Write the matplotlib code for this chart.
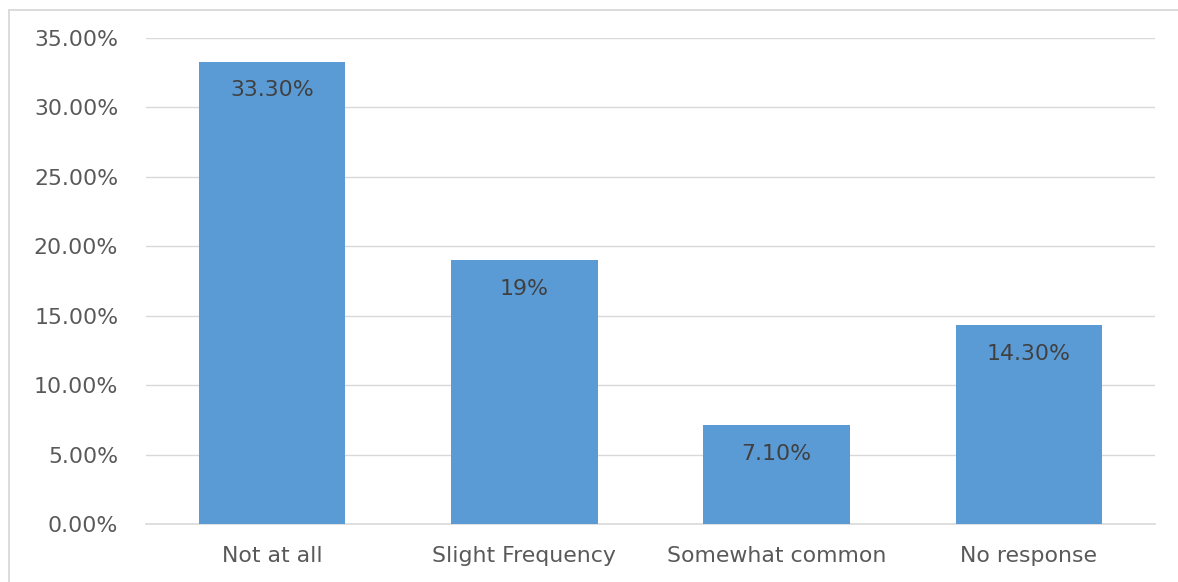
import matplotlib
matplotlib.use("Agg")
import matplotlib.pyplot as plt
from matplotlib.lines import Line2D

categories = ["Not at all", "Slight Frequency", "Somewhat common", "No response"]
values = [33.30, 19.0, 7.10, 14.30]
labels = ["33.30%", "19%", "7.10%", "14.30%"]
yticks = [0, 5, 10, 15, 20, 25, 30, 35]
ytick_labels = ["0.00%", "5.00%", "10.00%", "15.00%", "20.00%", "25.00%", "30.00%", "35.00%"]

W, H = 1178, 582
fig = plt.figure(figsize=(W / 100, H / 100), dpi=100)
plt.rcParams['font.family'] = ['DejaVu Sans']
FS = 15.8

ax = fig.add_axes([146 / W, 1 - 524 / H, (1155 - 146) / W, (524 - 38) / H])
x = range(len(categories))
bars = ax.bar(x, values, width=0.58, color="#5B9BD5", zorder=3)
for xi, v, lab in zip(x, values, labels):
    ax.text(xi, v - 1.35, lab, ha="center", va="top", fontsize=FS, color="#404040", zorder=4)

ax.set_xlim(-0.5, len(categories) - 0.5)
ax.set_ylim(0, 35)
ax.set_yticks(yticks)
ax.set_yticklabels(ytick_labels, fontsize=FS, color="#595959")
ax.set_xticks(list(x))
ax.set_xticklabels(categories, fontsize=FS, color="#595959")
ax.tick_params(axis="both", length=0)
ax.tick_params(axis="y", pad=20)
ax.tick_params(axis="x", pad=16)
ax.grid(axis="y", color="#D9D9D9", linewidth=1, zorder=0)
for s in ["top", "right", "left"]:
    ax.spines[s].set_visible(False)
ax.spines["bottom"].set_color("#D9D9D9")
ax.spines["bottom"].set_linewidth(1.2)

# outer chart border (left and top)
fig.add_artist(Line2D([8.5 / W, 8.5 / W], [0, 1 - 9.5 / H], transform=fig.transFigure, color="#D9D9D9", lw=1.3))
fig.add_artist(Line2D([8.5 / W, 1], [1 - 9.5 / H, 1 - 9.5 / H], transform=fig.transFigure, color="#D9D9D9", lw=1.3))

fig.savefig("out.png", dpi=100)
